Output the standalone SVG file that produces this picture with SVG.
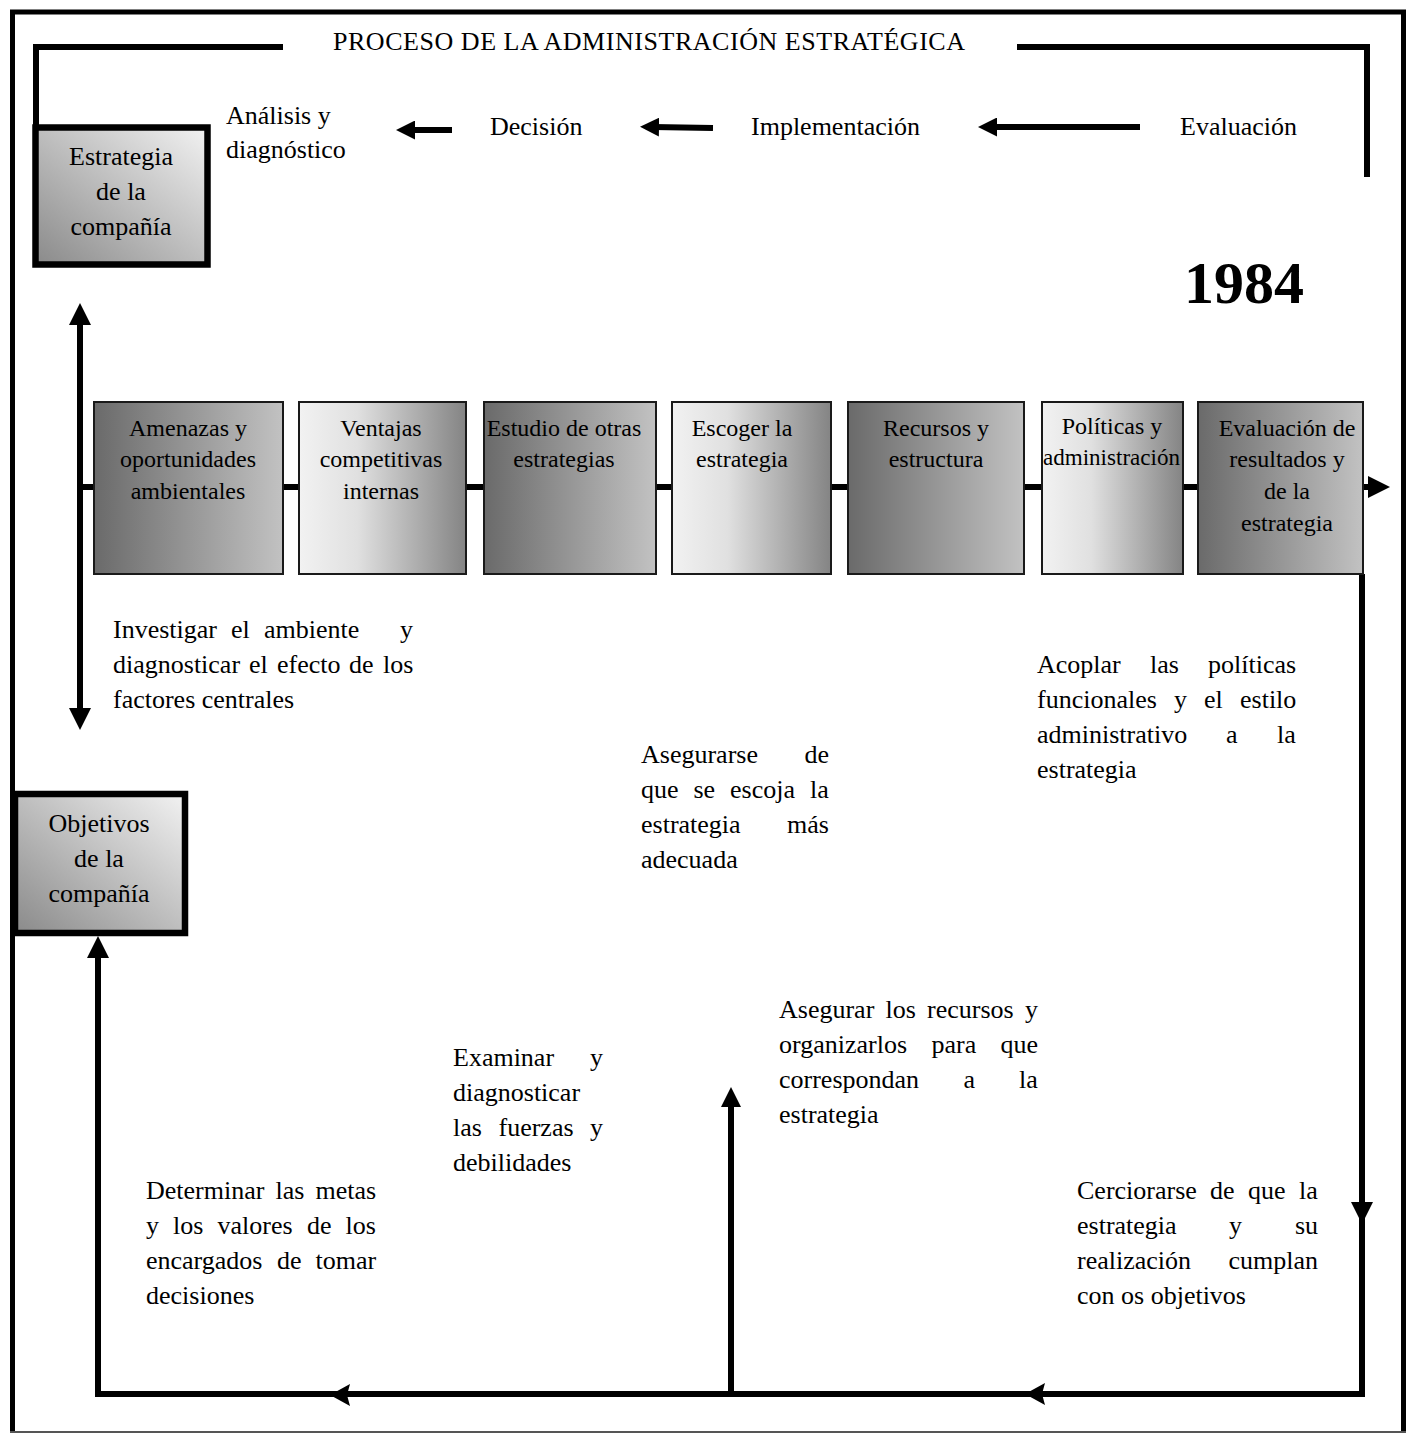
<svg xmlns="http://www.w3.org/2000/svg" width="1412" height="1434" viewBox="0 0 1412 1434">
<defs>
<linearGradient id="gDark" x1="0" y1="0" x2="1" y2="0">
<stop offset="0" stop-color="#6a6a6a"/>
<stop offset="1" stop-color="#c2c2c2"/>
</linearGradient>
<linearGradient id="gLight" x1="0" y1="0" x2="1" y2="0">
<stop offset="0" stop-color="#f2f2f2"/>
<stop offset="0.35" stop-color="#e0e0e0"/>
<stop offset="1" stop-color="#848484"/>
</linearGradient>
<linearGradient id="gDiag" x1="1" y1="0" x2="0" y2="1">
<stop offset="0" stop-color="#f2f2f2"/>
<stop offset="1" stop-color="#8a8a8a"/>
</linearGradient>
<marker id="ah" viewBox="0 0 22 22" refX="6" refY="11" markerWidth="22" markerHeight="22" markerUnits="userSpaceOnUse" orient="auto-start-reverse">
<path d="M0,0 L22,11 L0,22 Z" fill="#000"/>
</marker>
<marker id="ahs" viewBox="0 0 19 19" refX="6" refY="9.5" markerWidth="19" markerHeight="19" markerUnits="userSpaceOnUse" orient="auto">
<path d="M0,0 L19,9.5 L0,19 Z" fill="#000"/>
</marker>
</defs>
<style>
text{font-family:"Liberation Serif","Times New Roman",serif;fill:#000}
.t26{font-size:26px}
.t24{font-size:24px}
.c{text-anchor:middle}
.ln{fill:none;stroke:#000;stroke-width:6}
.bx{stroke:#1a1a1a;stroke-width:2}
.hb{stroke:#000;stroke-width:6.5}
</style>

<rect width="1412" height="1434" fill="#fff"/>

<g id="frame">
<path d="M12.5,1432 V12 H1403.5 V1432" fill="none" stroke="#000" stroke-width="5"/>
<line x1="10" y1="1432" x2="1406" y2="1432" stroke="#555" stroke-width="2"/>
</g>

<g id="connectors">
<path class="ln" d="M283,47 H36 V125"/>
<path class="ln" d="M1017,47 H1367 V177"/>
<line class="ln" x1="452" y1="130" x2="409" y2="130" marker-end="url(#ahs)"/>
<line class="ln" x1="713" y1="128" x2="653" y2="127" marker-end="url(#ahs)"/>
<line class="ln" x1="1140" y1="127" x2="991" y2="127" marker-end="url(#ahs)"/>
<line class="ln" x1="80" y1="319" x2="80" y2="714" marker-start="url(#ah)" marker-end="url(#ah)"/>
<line class="ln" x1="80" y1="487" x2="1374" y2="487" marker-end="url(#ah)"/>
<path class="ln" d="M1362,574 V1394 H98 V950"/>
<path d="M1351,1202 L1373,1202 L1362,1224 Z" fill="#000"/>
<path d="M1025,1394 L1045,1383 L1042,1394 L1045,1405 Z" fill="#000"/>
<path d="M330,1395 L350,1384 L347,1395 L350,1406 Z" fill="#000"/>
<path d="M98,936 L87,958 L109,958 Z" fill="#000"/>
<line class="ln" x1="731" y1="1394" x2="731" y2="1100"/>
<path d="M731,1087 L721,1107 L741,1107 Z" fill="#000"/>
</g>

<text class="t26" x="333" y="50" textLength="632" lengthAdjust="spacing">PROCESO DE LA ADMINISTRACIÓN ESTRATÉGICA</text>

<g id="n-analisis">
<text class="t26" x="226" y="124">Análisis y</text>
<text class="t26" x="226" y="158">diagnóstico</text>
</g>
<g id="n-decision"><text class="t26" x="490" y="135">Decisión</text></g>
<g id="n-implementacion"><text class="t26" x="751" y="135">Implementación</text></g>
<g id="n-evaluacion"><text class="t26" x="1180" y="135">Evaluación</text></g>

<g id="n-estrategia">
<rect class="hb" x="35.5" y="127.5" width="172" height="137" fill="url(#gDiag)"/>
<text class="t26 c" x="121" y="165">Estrategia</text>
<text class="t26 c" x="121" y="200">de la</text>
<text class="t26 c" x="121" y="235">compañía</text>
</g>

<g id="n-1984"><text x="1184" y="303" font-size="60" font-weight="bold">1984</text></g>

<g id="n-amenazas">
<rect class="bx" x="94" y="402" width="189" height="172" fill="url(#gDark)"/>
<text class="t24 c" x="188" y="436">Amenazas y</text>
<text class="t24 c" x="188" y="467">oportunidades</text>
<text class="t24 c" x="188" y="499">ambientales</text>
</g>
<g id="n-ventajas">
<rect class="bx" x="299" y="402" width="167" height="172" fill="url(#gLight)"/>
<text class="t24 c" x="381" y="436">Ventajas</text>
<text class="t24 c" x="381" y="467">competitivas</text>
<text class="t24 c" x="381" y="499">internas</text>
</g>
<g id="n-estudio">
<rect class="bx" x="484" y="402" width="172" height="172" fill="url(#gDark)"/>
<text class="t24 c" x="564" y="436">Estudio de otras</text>
<text class="t24 c" x="564" y="467">estrategias</text>
</g>
<g id="n-escoger">
<rect class="bx" x="672" y="402" width="159" height="172" fill="url(#gLight)"/>
<text class="t24 c" x="742" y="436">Escoger la</text>
<text class="t24 c" x="742" y="467">estrategia</text>
</g>
<g id="n-recursos">
<rect class="bx" x="848" y="402" width="176" height="172" fill="url(#gDark)"/>
<text class="t24 c" x="936" y="436">Recursos y</text>
<text class="t24 c" x="936" y="467">estructura</text>
</g>
<g id="n-politicas">
<rect class="bx" x="1042" y="402" width="141" height="172" fill="url(#gLight)"/>
<text class="t24 c" x="1112" y="434">Políticas y</text>
<text class="t24" x="1043" y="465" textLength="137" lengthAdjust="spacingAndGlyphs">administración</text>
</g>
<g id="n-evalres">
<rect class="bx" x="1198" y="402" width="165" height="172" fill="url(#gDark)"/>
<text class="t24 c" x="1287" y="436">Evaluación de</text>
<text class="t24 c" x="1287" y="467">resultados y</text>
<text class="t24 c" x="1287" y="499">de la</text>
<text class="t24 c" x="1287" y="531">estrategia</text>
</g>

<g id="n-objetivos">
<rect class="hb" x="15" y="794" width="170" height="139" fill="url(#gDiag)"/>
<text class="t26 c" x="99" y="832">Objetivos</text>
<text class="t26 c" x="99" y="867">de la</text>
<text class="t26 c" x="99" y="902">compañía</text>
</g>

<g id="p-investigar">
<text class="t26" y="638"><tspan x="113">Investigar</tspan><tspan x="231">el</tspan><tspan x="264">ambiente</tspan><tspan x="400">y</tspan></text>
<text class="t26" y="673"><tspan x="113">diagnosticar</tspan><tspan x="249">el</tspan><tspan x="277">efecto</tspan><tspan x="349">de</tspan><tspan x="383">los</tspan></text>
<text class="t26" x="113" y="708">factores centrales</text>
</g>

<g id="p-acoplar">
<text class="t26" y="673"><tspan x="1037">Acoplar</tspan><tspan x="1150">las</tspan><tspan x="1208">políticas</tspan></text>
<text class="t26" y="708"><tspan x="1037">funcionales</tspan><tspan x="1174">y</tspan><tspan x="1204">el</tspan><tspan x="1240">estilo</tspan></text>
<text class="t26" y="743"><tspan x="1037">administrativo</tspan><tspan x="1226">a</tspan><tspan x="1277">la</tspan></text>
<text class="t26" x="1037" y="778">estrategia</text>
</g>

<g id="p-asegurarse">
<text class="t26" y="763"><tspan x="641">Asegurarse</tspan><tspan x="804.5">de</tspan></text>
<text class="t26" y="798"><tspan x="641">que</tspan><tspan x="693.5">se</tspan><tspan x="730">escoja</tspan><tspan x="810">la</tspan></text>
<text class="t26" y="833"><tspan x="641">estrategia</tspan><tspan x="787">más</tspan></text>
<text class="t26" x="641" y="868">adecuada</text>
</g>

<g id="p-asegurar">
<text class="t26" y="1018"><tspan x="779">Asegurar</tspan><tspan x="885.5">los</tspan><tspan x="927">recursos</tspan><tspan x="1025">y</tspan></text>
<text class="t26" y="1053"><tspan x="779">organizarlos</tspan><tspan x="931.5">para</tspan><tspan x="1000.5">que</tspan></text>
<text class="t26" y="1088"><tspan x="779">correspondan</tspan><tspan x="963.5">a</tspan><tspan x="1019">la</tspan></text>
<text class="t26" x="779" y="1123">estrategia</text>
</g>

<g id="p-examinar">
<text class="t26" y="1066"><tspan x="453">Examinar</tspan><tspan x="590">y</tspan></text>
<text class="t26" x="453" y="1101">diagnosticar</text>
<text class="t26" y="1136"><tspan x="453">las</tspan><tspan x="498.5">fuerzas</tspan><tspan x="590">y</tspan></text>
<text class="t26" x="453" y="1171">debilidades</text>
</g>

<g id="p-determinar">
<text class="t26" y="1199"><tspan x="146">Determinar</tspan><tspan x="275.5">las</tspan><tspan x="315.5">metas</tspan></text>
<text class="t26" y="1234"><tspan x="146">y</tspan><tspan x="173">los</tspan><tspan x="217.5">valores</tspan><tspan x="307">de</tspan><tspan x="345.5">los</tspan></text>
<text class="t26" y="1269"><tspan x="146">encargados</tspan><tspan x="277">de</tspan><tspan x="315.5">tomar</tspan></text>
<text class="t26" x="146" y="1304">decisiones</text>
</g>

<g id="p-cerciorarse">
<text class="t26" y="1199"><tspan x="1077">Cerciorarse</tspan><tspan x="1210">de</tspan><tspan x="1248">que</tspan><tspan x="1299">la</tspan></text>
<text class="t26" y="1234"><tspan x="1077">estrategia</tspan><tspan x="1229">y</tspan><tspan x="1295">su</tspan></text>
<text class="t26" y="1269"><tspan x="1077">realización</tspan><tspan x="1228.5">cumplan</tspan></text>
<text class="t26" x="1077" y="1304">con os objetivos</text>
</g>
</svg>
